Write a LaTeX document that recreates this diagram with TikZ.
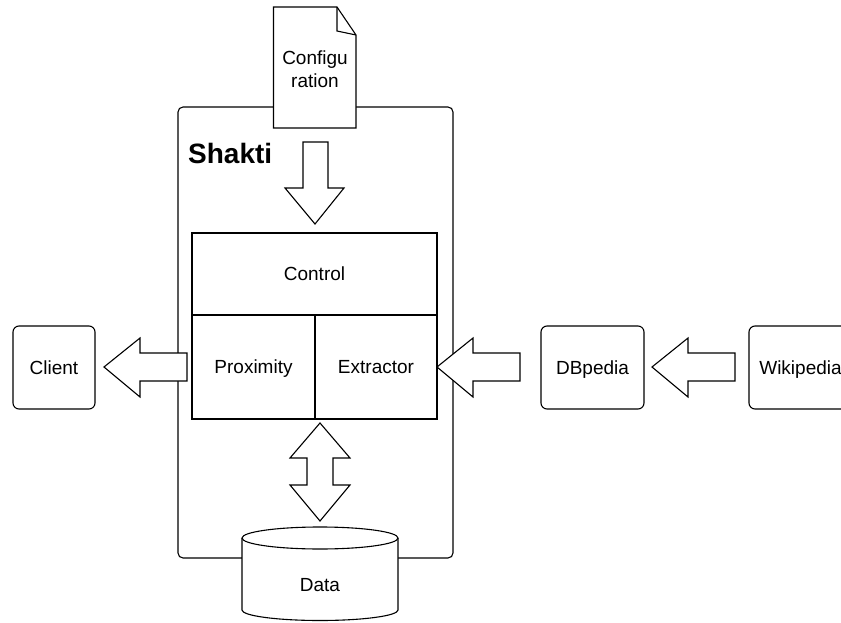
\documentclass[tikz,border=0pt]{standalone}
\usepackage{fontspec}
\setmainfont{Liberation Sans}
\begin{document}
\begin{tikzpicture}[x=1pt,y=-1pt,
  lbl/.style={font=\fontsize{19}{23}\selectfont, inner sep=0pt, align=center},
  one/.style={text height=13.5pt, text depth=0pt},
  cell/.style={draw, line width=1.1pt, fill=white},
  rbox/.style={draw, line width=1.1pt, rounded corners=6pt, fill=white},
  barrow/.style={draw, line width=1.1pt, fill=white, line join=miter}]
\clip (0,0) rectangle (841,623);
\useasboundingbox (0,0) rectangle (841,623);
\fill[white] (0,0) rectangle (841,623);
% container
\draw[line width=1.1pt, rounded corners=5pt] (178,107) rectangle (453,558);
\node[anchor=base west, inner sep=0pt, font=\fontsize{28}{32}\selectfont\bfseries] (shakti) at (188,164) {Shakti};
% configuration document
\draw[cell] (273.5,7) -- (337,7) -- (356,35) -- (356,128) -- (273.5,128) -- cycle;
\draw[line width=1.1pt, line join=miter] (337,7) -- (337,31) -- (356,35);
\node[lbl] (config) at (315,69) {Configu\\ration};
% internal blocks
\node[cell, minimum width=245pt, minimum height=82pt, inner sep=0pt] (control) at (314.5,274) {};
\node[lbl, one] at (control) {Control};
\node[cell, minimum width=123pt, minimum height=104pt, inner sep=0pt] (prox) at (253.5,367) {};
\node[lbl, one] at (prox) {Proximity};
\node[cell, minimum width=122pt, minimum height=104pt, inner sep=0pt] (extr) at (376,367) {};
\node[lbl, one] at (extr) {Extractor};
% external boxes
\node[rbox, minimum width=82pt, minimum height=83pt, inner sep=0pt] (client) at (54,367.5) {};
\node[lbl, one] at (client) {Client};
\node[rbox, minimum width=103pt, minimum height=83pt, inner sep=0pt] (dbp) at (592.5,367.5) {};
\node[lbl, one] at (dbp) {DBpedia};
\node[rbox, minimum width=103pt, minimum height=83pt, inner sep=0pt] (wiki) at (800.5,367.5) {};
\node[lbl, one] at (wiki) {Wikipedia};
% data cylinder
\draw[line width=1.1pt, fill=white] (242,538) -- (242,610)
  .. controls (242,615.8) and (277,620.5) .. (320,620.5)
  .. controls (363,620.5) and (398,615.8) .. (398,610) -- (398,538);
\draw[line width=1.1pt, fill=white] (320,538) ellipse[x radius=78, y radius=11];
\node[lbl, one] (data) at (320,585) {Data};
% block arrows
\draw[barrow] (303,142) -- (328,142) -- (328,188) -- (344,188) -- (315,224) -- (285,188) -- (303,188) -- cycle;
\draw[barrow] (187,353) -- (140,353) -- (140,338) -- (104,367) -- (140,397) -- (140,381) -- (187,381) -- cycle;
\draw[barrow] (520,353) -- (473,353) -- (473,338) -- (437,367) -- (473,397) -- (473,381) -- (520,381) -- cycle;
\draw[barrow] (735,353) -- (688,353) -- (688,338) -- (652,367) -- (688,397) -- (688,381) -- (735,381) -- cycle;
\draw[barrow] (320,423) -- (350,458) -- (333,458) -- (333,485) -- (350,485) -- (320,521) -- (290,485) -- (307,485) -- (307,458) -- (290,458) -- cycle;
\end{tikzpicture}
\end{document}
